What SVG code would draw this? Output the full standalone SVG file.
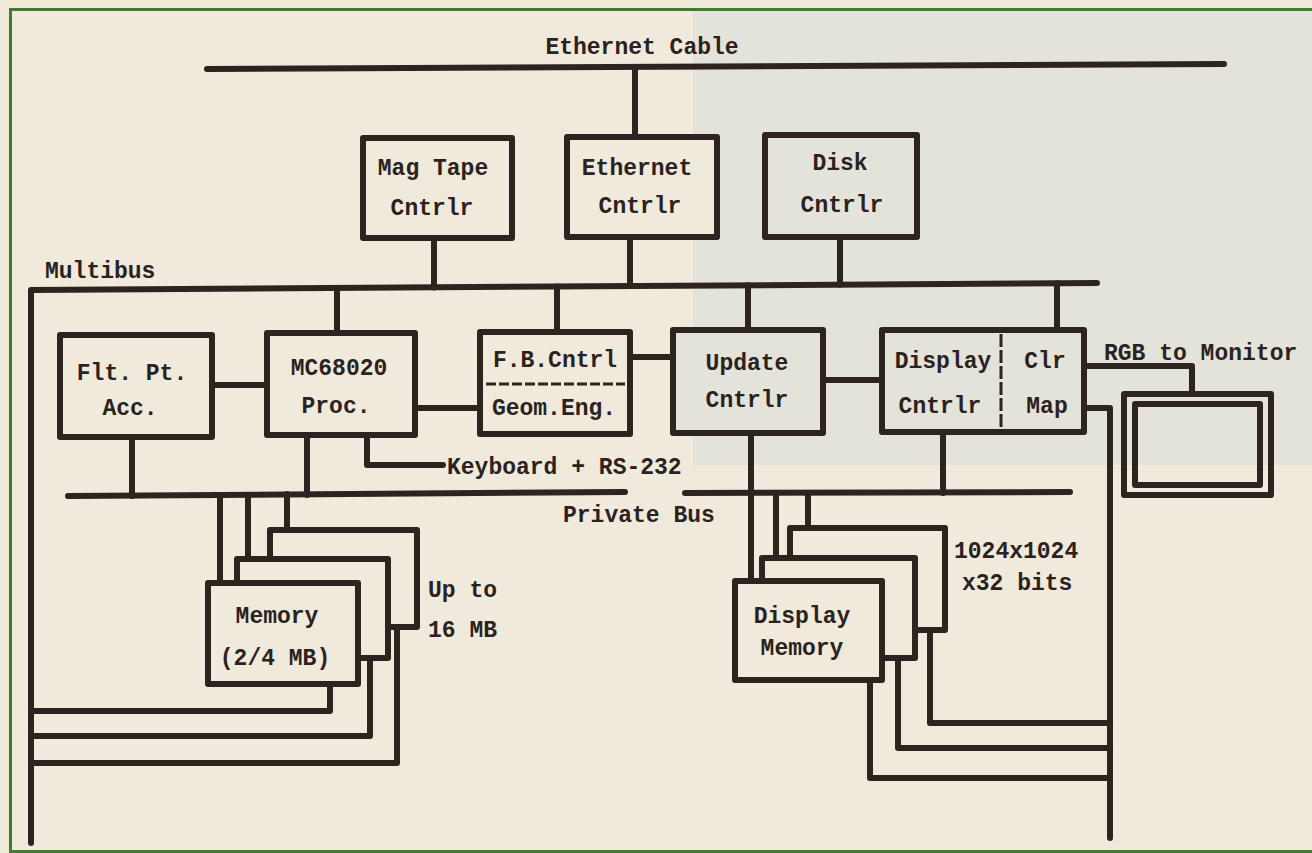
<svg xmlns="http://www.w3.org/2000/svg" width="1312" height="853" viewBox="0 0 1312 853">
<defs>
<style>
.bg{fill:#efeadb}
.ln{fill:none;stroke:#2d2420;stroke-width:6;stroke-linecap:round;stroke-linejoin:round}
.box{fill:#efeadb;stroke:#2d2420;stroke-width:6;stroke-linejoin:round}
.gbox{fill:#e4e3da;stroke:#2d2420;stroke-width:6;stroke-linejoin:round}
.dash{fill:none;stroke:#2d2420;stroke-width:3}
.t{font-family:"Liberation Mono","Courier New",monospace;font-weight:bold;font-size:23px;fill:#2b221e}
.c{text-anchor:middle}
</style>
</defs>
<rect x="0" y="0" width="1312" height="853" fill="#f0ead8"/>
<rect x="10" y="10" width="1302" height="841" class="bg"/>
<rect x="693" y="11" width="619" height="454" fill="#e4e3da"/>
<path d="M10.5 853 V9.5 H1312 M10 851.5 H1312" fill="none" stroke="#3f7d2c" stroke-width="3"/>

<g id="connectors">
<path class="ln" d="M207 69 L1224 64"/>
<path class="ln" d="M31 843 L31 290 L1097 283"/>
<path class="ln" d="M635 68 V137"/>
<path class="ln" d="M434 238 V287.5"/>
<path class="ln" d="M630 237 V286"/>
<path class="ln" d="M840 237 V284.7"/>
<path class="ln" d="M337 288 V333"/>
<path class="ln" d="M557 286.5 V332"/>
<path class="ln" d="M748 285.3 V330"/>
<path class="ln" d="M1057 283.3 V330"/>
<path class="ln" d="M212 385 H267"/>
<path class="ln" d="M415 408 H480"/>
<path class="ln" d="M630 357 H673"/>
<path class="ln" d="M823 380 H882"/>
<path class="ln" d="M367 435 V465 H443"/>
<path class="ln" d="M132 437 V496"/>
<path class="ln" d="M307 435 V495"/>
<path class="ln" d="M68 496 L625 492"/>
<path class="ln" d="M685 493 L1070 492"/>
<path class="ln" d="M751 433 V581"/>
<path class="ln" d="M943 432 V493"/>
<path class="ln" d="M1084 366 H1192 V394"/>
<path class="ln" d="M1084 408 H1110 V838"/>
<path class="ln" d="M776 493 V558"/>
<path class="ln" d="M808 493 V528"/>
<path class="ln" d="M930 630 V723 H1110"/>
<path class="ln" d="M898 658 V748 H1110"/>
<path class="ln" d="M870 680 V778 H1110"/>
<path class="ln" d="M220 495 V583"/>
<path class="ln" d="M248 495 V559"/>
<path class="ln" d="M287 494 V530"/>
<path class="ln" d="M330 684 V711 H31"/>
<path class="ln" d="M370 658 V736 H31"/>
<path class="ln" d="M397 627 V763 H31"/>
</g>

<g id="labels">
<text class="t c" x="642" y="54">Ethernet Cable</text>
<text class="t" x="45" y="278">Multibus</text>
<text class="t" x="447" y="474">Keyboard + RS-232</text>
<text class="t" x="563" y="522">Private Bus</text>
<text class="t" x="1104" y="360">RGB to Monitor</text>
<text class="t" x="428" y="597">Up to</text>
<text class="t" x="428" y="637">16 MB</text>
<text class="t" x="954" y="558">1024x1024</text>
<text class="t" x="962" y="590">x32 bits</text>
</g>

<g id="magtape">
<rect class="box" x="363" y="138" width="149" height="100"/>
<text class="t c" x="433" y="175">Mag Tape</text>
<text class="t c" x="432" y="215">Cntrlr</text>
</g>
<g id="ethernet-cntrlr">
<rect class="box" x="567" y="137" width="150" height="100"/>
<text class="t c" x="637" y="175">Ethernet</text>
<text class="t c" x="640" y="213">Cntrlr</text>
</g>
<g id="disk-cntrlr">
<rect class="gbox" x="765" y="135" width="152" height="102"/>
<text class="t c" x="840" y="170">Disk</text>
<text class="t c" x="842" y="212">Cntrlr</text>
</g>
<g id="fltpt">
<rect class="box" x="60" y="335" width="152" height="102"/>
<text class="t c" x="132" y="380">Flt. Pt.</text>
<text class="t c" x="130" y="415">Acc.</text>
</g>
<g id="mc68020">
<rect class="box" x="267" y="333" width="148" height="102"/>
<text class="t c" x="339" y="375">MC68020</text>
<text class="t c" x="336" y="413">Proc.</text>
</g>
<g id="fb-geom">
<rect class="box" x="480" y="332" width="150" height="102"/>
<text class="t c" x="555" y="367">F.B.Cntrl</text>
<path class="dash" d="M486 384 H625" stroke-dasharray="10 3"/>
<text class="t c" x="554" y="415">Geom.Eng.</text>
</g>
<g id="update-cntrlr">
<rect class="gbox" x="673" y="330" width="150" height="103"/>
<text class="t c" x="747" y="370">Update</text>
<text class="t c" x="747" y="407">Cntrlr</text>
</g>
<g id="display-cntrlr">
<rect class="gbox" x="882" y="330" width="202" height="102"/>
<path class="dash" d="M1001 334 V429" stroke-dasharray="13 3"/>
<text class="t c" x="943" y="368">Display</text>
<text class="t c" x="940" y="413">Cntrlr</text>
<text class="t c" x="1045" y="368">Clr</text>
<text class="t c" x="1047" y="413">Map</text>
</g>
<g id="monitor">
<rect class="box" x="1124" y="394" width="147" height="101" fill="none" style="fill:none"/>
<rect class="box" x="1135" y="404" width="125" height="81" style="fill:none"/>
</g>
<g id="display-memory">
<rect class="box" x="790" y="528" width="155" height="102"/>
<rect class="box" x="762" y="558" width="153" height="100"/>
<rect class="box" x="735" y="581" width="147" height="99"/>
<text class="t c" x="802" y="623">Display</text>
<text class="t c" x="802" y="655">Memory</text>
</g>
<g id="memory">
<rect class="box" x="270" y="530" width="147" height="97"/>
<rect class="box" x="237" y="559" width="151" height="99"/>
<rect class="box" x="208" y="583" width="150" height="101"/>
<text class="t c" x="277" y="623">Memory</text>
<text class="t c" x="275" y="665">(2/4 MB)</text>
</g>
</svg>
